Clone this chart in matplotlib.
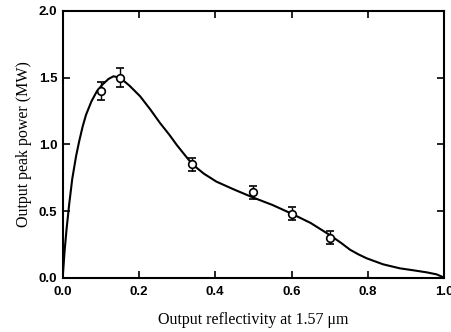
import numpy as np
import matplotlib
matplotlib.use('Agg')
import matplotlib.pyplot as plt

# measured points with error bars
refl = [0.10, 0.15, 0.34, 0.50, 0.60, 0.70]
power = [1.40, 1.50, 0.85, 0.64, 0.48, 0.30]
err = [0.07, 0.07, 0.05, 0.05, 0.05, 0.05]

# theory curve
curve_x = [0.0, 0.005, 0.010, 0.017, 0.025, 0.035, 0.043, 0.052, 0.061, 0.075,
           0.090, 0.105, 0.120, 0.133, 0.150, 0.175, 0.203, 0.230, 0.255, 0.280,
           0.299, 0.320, 0.340, 0.370, 0.403, 0.450, 0.500, 0.550, 0.600, 0.650,
           0.700, 0.730, 0.753, 0.775, 0.797, 0.840, 0.884, 0.920, 0.954, 0.980, 1.0]
curve_y = [0.0, 0.20, 0.36, 0.55, 0.74, 0.91, 1.02, 1.13, 1.22, 1.32,
           1.40, 1.45, 1.49, 1.51, 1.50, 1.44, 1.36, 1.26, 1.16, 1.07,
           0.995, 0.92, 0.85, 0.78, 0.72, 0.66, 0.60, 0.545, 0.48, 0.41,
           0.32, 0.26, 0.21, 0.175, 0.145, 0.10, 0.07, 0.055, 0.04, 0.025, 0.0]

fig = plt.figure(figsize=(4.51, 3.32), dpi=100)
ax = fig.add_axes([0.139, 0.1636, 0.846, 0.8034])

ax.plot(curve_x, curve_y, color='k', lw=1.5)
ax.errorbar(refl, power, yerr=err, fmt='o', mfc='white', mec='k', mew=1.2,
            ms=5.5, ecolor='k', elinewidth=1.0, capsize=3, capthick=1.0)

ax.set_xlim(0, 1.0)
ax.set_ylim(0, 2.0)
ax.set_xticks([0.0, 0.2, 0.4, 0.6, 0.8, 1.0])
ax.set_yticks([0.0, 0.5, 1.0, 1.5, 2.0])
ax.xaxis.set_major_formatter(matplotlib.ticker.FormatStrFormatter('%.1f'))
ax.yaxis.set_major_formatter(matplotlib.ticker.FormatStrFormatter('%.1f'))
ax.tick_params(direction='in', length=5, width=1.2, top=True, right=True,
               labelsize=9.5)
ax.tick_params(axis='x', pad=6)
ax.tick_params(axis='y', pad=4)
for lab in ax.get_xticklabels() + ax.get_yticklabels():
    lab.set_fontfamily('Liberation Sans')
    lab.set_fontweight('bold')
for s in ax.spines.values():
    s.set_linewidth(1.5)

ax.set_xlabel('Output reflectivity at 1.57 \u03bcm', fontfamily='Liberation Serif',
              fontsize=11.5, labelpad=10)
ax.set_ylabel('Output peak power (MW)', fontfamily='Liberation Serif',
              fontsize=11.5, labelpad=5)

fig.savefig('out.png', dpi=100)
